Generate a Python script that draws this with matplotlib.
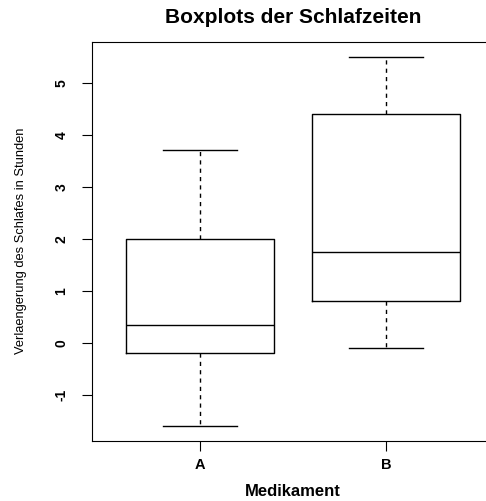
import numpy as np
import matplotlib.pyplot as plt

# sleep data (extra hours of sleep) per drug
groups = ['A', 'B']
extra_a = [0.7, -1.6, -0.2, -1.2, -0.1, 3.4, 3.7, 0.8, 0.0, 2.0]
extra_b = [1.9, 0.8, 1.1, 0.1, -0.1, 4.4, 5.5, 1.6, 4.6, 3.4]
yticks = [-1, 0, 1, 2, 3, 4, 5]


def fivenum(x):
    # Tukey five-number summary like R's boxplot
    x = np.sort(np.asarray(x, dtype=float))
    n = len(x)
    n4 = np.floor((n + 3) / 2) / 2
    d = np.array([1, n4, (n + 1) / 2, n + 1 - n4, n]) - 1
    return 0.5 * (x[np.floor(d).astype(int)] + x[np.ceil(d).astype(int)])


stats = []
for name, vals in zip(groups, [extra_a, extra_b]):
    lo, q1, med, q3, hi = fivenum(vals)
    stats.append({'label': name, 'whislo': lo, 'q1': q1, 'med': med,
                  'q3': q3, 'whishi': hi, 'fliers': []})

bold = {'family': 'Liberation Sans', 'weight': 'bold'}

fig = plt.figure(figsize=(4.86, 5.01), dpi=100)
ax = fig.add_axes([92 / 486, 1 - 441 / 501, (494 - 92) / 486, (441 - 42) / 501])

ax.bxp(stats, positions=[1, 2], widths=0.8, showfliers=False,
       boxprops=dict(color='black', linewidth=1),
       medianprops=dict(color='black', linewidth=1),
       whiskerprops=dict(color='black', linewidth=1, linestyle=(0, (3, 3))),
       capprops=dict(color='black', linewidth=1),
       capwidths=0.4)

ymin = min(min(extra_a), min(extra_b))
ymax = max(max(extra_a), max(extra_b))
pad = 0.04 * (ymax - ymin)
ax.set_ylim(ymin - pad, ymax + pad)
ax.set_xlim(0.5 - 0.08, 2.5 + 0.08)

ax.set_yticks(yticks)
ax.set_yticklabels([str(t) for t in yticks], rotation=90, va='center', fontdict=bold, fontsize=10)
ax.set_xticks([1, 2])
ax.set_xticklabels(groups, fontdict=bold, fontsize=10.5)
ax.tick_params(length=7, width=0.8)
ax.tick_params(axis='y', pad=10)
ax.tick_params(axis='x', pad=5)
for s in ax.spines.values():
    s.set_linewidth(0.8)

ax.set_title('Boxplots der Schlafzeiten', fontdict=bold, fontsize=15, pad=14)
ax.set_xlabel('Medikament', fontdict=bold, fontsize=12, va='center')
ax.xaxis.set_label_coords(293 / 486, 1 - 491 / 501, transform=fig.transFigure)
ax.set_ylabel('Verlaengerung des Schlafes in Stunden', va='center',
              family='Liberation Sans', fontsize=9.3)
ax.yaxis.set_label_coords(21 / 486, 1 - 241 / 501, transform=fig.transFigure)

fig.savefig('out.png', dpi=100)
